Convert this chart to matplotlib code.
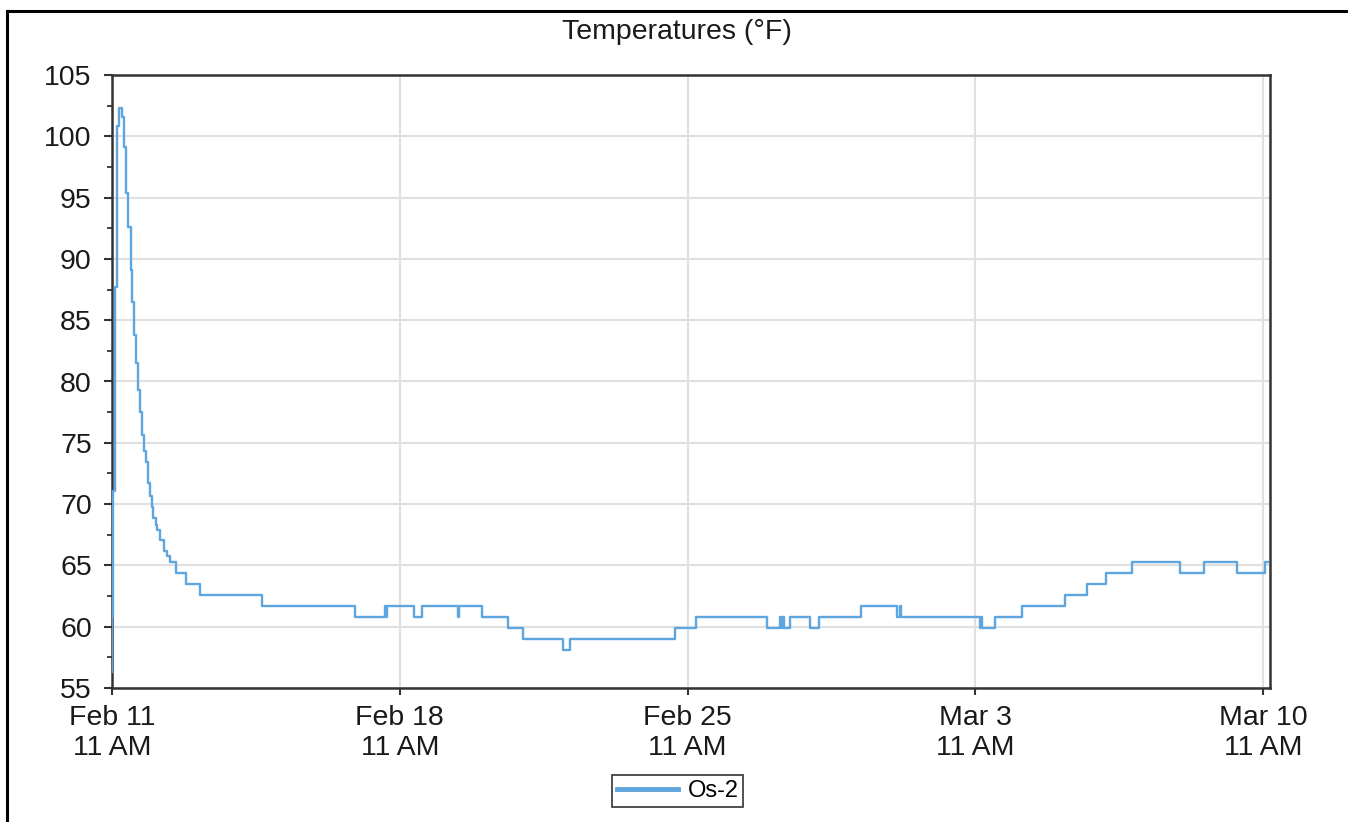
import matplotlib
matplotlib.use("Agg")
import matplotlib.pyplot as plt
import matplotlib.dates as mdates
from matplotlib.lines import Line2D
from matplotlib.ticker import MultipleLocator
import pandas as pd

plt.rcParams['font.family'] = ['Liberation Sans', 'DejaVu Sans']

# ---- data ----
start_time = "2024-02-11 11:00"
series_name = "Os-2"
title_text = "Temperatures (°F)"

elapsed_days = [
    0.000, 0.010, 0.030, 0.073, 0.13, 0.18, 0.235, 0.29, 0.34, 0.40,
    0.455, 0.495, 0.545, 0.575, 0.625, 0.68, 0.73, 0.77, 0.83, 0.875,
    0.925, 0.965, 1.005, 1.06, 1.10, 1.17, 1.265, 1.33, 1.41, 1.56,
    1.80, 2.14, 3.65, 5.91, 6.64, 6.67, 6.69, 7.35, 7.535, 8.425,
    8.44, 9.00, 9.63, 10.01, 10.98, 11.14, 13.70, 14.21, 15.93, 16.24,
    16.30, 16.32, 16.35, 16.49, 16.98, 17.20, 18.22, 19.09, 19.17, 19.19,
    21.11, 21.15, 21.17, 21.49, 22.14, 23.19, 23.73, 24.17, 24.82, 25.99,
    26.56, 27.37, 28.06, 28.13,
]
temps_f = [
    56.3, 60.8, 71.1, 87.7, 100.8, 102.3, 101.6, 99.1, 95.4, 92.6,
    89.1, 86.5, 83.8, 81.5, 79.3, 77.5, 75.6, 74.3, 73.4, 71.7,
    70.7, 69.8, 68.9, 68.3, 67.9, 67.1, 66.2, 65.8, 65.3, 64.4,
    63.5, 62.6, 61.7, 60.8, 61.7, 60.8, 61.7, 60.8, 61.7, 60.8,
    61.7, 60.8, 59.9, 59.0, 58.1, 59.0, 59.9, 60.8, 59.9, 60.8,
    59.9, 60.8, 59.9, 60.8, 59.9, 60.8, 61.7, 60.8, 61.7, 60.8,
    59.9, 60.8, 59.9, 60.8, 61.7, 62.6, 63.5, 64.4, 65.3, 64.4,
    65.3, 64.4, 65.3, 65.3,
]
x_tick_dates = ["2024-02-11 11:00", "2024-02-18 11:00", "2024-02-25 11:00",
                "2024-03-03 11:00", "2024-03-10 11:00"]
x_tick_labels = ["Feb 11\n11 AM", "Feb 18\n11 AM", "Feb 25\n11 AM",
                 "Mar 3\n11 AM", "Mar 10\n11 AM"]
y_min, y_max, y_step = 55, 105, 5
x_end_days = 28.17

# ---- figure ----
W, H = 1348, 822
fig = plt.figure(figsize=(W / 100, H / 100), dpi=100)
ax = fig.add_axes([112 / W, 1 - 688 / H, (1270 - 112) / W, (688 - 75) / H])

t0 = pd.Timestamp(start_time)
times = [t0 + pd.Timedelta(days=d) for d in elapsed_days]

line_color = '#5ea6e0'
ax.plot(times, temps_f, drawstyle='steps-post', color=line_color, lw=1.7,
        zorder=3)

ax.set_xlim(t0, t0 + pd.Timedelta(days=x_end_days))
ax.set_ylim(y_min, y_max)

ax.yaxis.set_major_locator(MultipleLocator(y_step))
ax.yaxis.set_minor_locator(MultipleLocator(y_step / 2))
ax.set_xticks([pd.Timestamp(d) for d in x_tick_dates])
ax.set_xticklabels(x_tick_labels, linespacing=1.2)

ax.grid(True, which='major', color='#e0e0e0', lw=1.5, zorder=0)
ax.set_axisbelow(True)

for s in ax.spines.values():
    s.set_color('#333333')
    s.set_linewidth(1.8)

ax.tick_params(axis='y', which='major', length=5.5, width=1.5,
               color='#333333', labelsize=20.5, pad=9, labelcolor='#1a1a1a')
ax.tick_params(axis='y', which='minor', length=3.5, width=1.3,
               color='#333333')
ax.tick_params(axis='x', which='major', length=5, width=1.5,
               color='#333333', labelsize=20.5, pad=7.5, labelcolor='#1a1a1a')

fig.text(677 / W, 1 - 32 / H, title_text, ha='center', va='center',
         fontsize=20.5, color='#1a1a1a')

handle = Line2D([], [], color=line_color, lw=3.5)
leg = fig.legend([handle], [series_name], loc='center',
                 bbox_to_anchor=(677.5 / W, 1 - 791 / H),
                 bbox_transform=fig.transFigure,
                 fontsize=17, frameon=True, fancybox=False,
                 handlelength=2.6, borderpad=0.2, handletextpad=0.4,
                 borderaxespad=0)
leg.get_frame().set_edgecolor('black')
leg.get_frame().set_linewidth(1.2)

# outer frame (left and top edges)
fig.add_artist(Line2D([7 / W, 7 / W], [0, 1 - 11 / H], color='black',
                      lw=2.2, transform=fig.transFigure))
fig.add_artist(Line2D([7 / W, 1], [1 - 11 / H, 1 - 11 / H], color='black',
                      lw=2.2, transform=fig.transFigure))

fig.savefig('out.png', dpi=100)
